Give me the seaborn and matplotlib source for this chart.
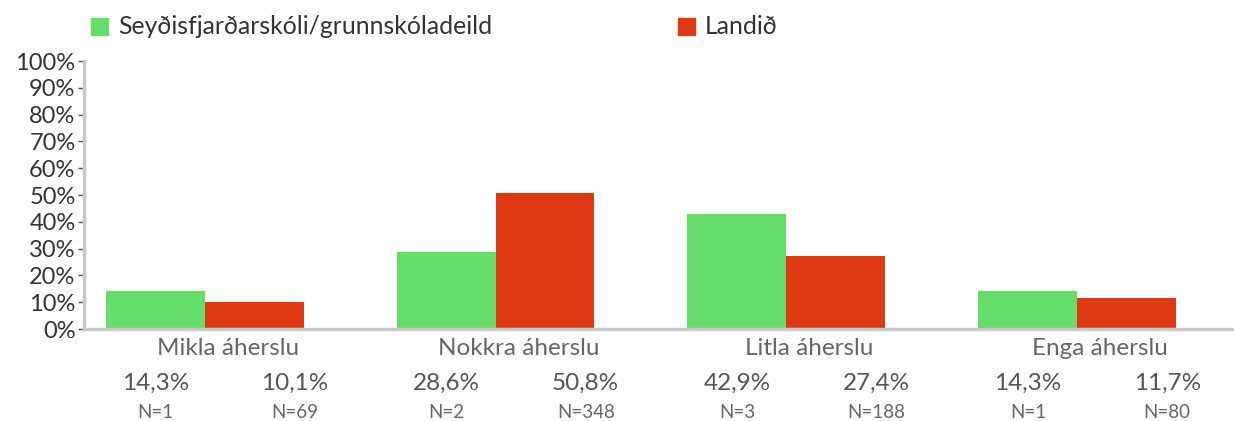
import matplotlib
matplotlib.use("Agg")
import matplotlib.pyplot as plt
import seaborn as sns
import pandas as pd
import numpy as np

categories = ["Mikla áherslu", "Nokkra áherslu", "Litla áherslu", "Enga áherslu"]
series_names = ["Seyðisfjarðarskóli/grunnskóladeild", "Landið"]
school_pct = [14.3, 28.6, 42.9, 14.3]
country_pct = [10.1, 50.8, 27.4, 11.7]
school_n = [1, 2, 3, 1]
country_n = [69, 348, 188, 80]
yticks = [0, 10, 20, 30, 40, 50, 60, 70, 80, 90, 100]

colors = ["#66dc6a", "#dd3a14"]

sns.set_theme(style="white")
plt.rcParams["font.family"] = ["Lato", "DejaVu Sans"]

df = pd.DataFrame({
    "cat": categories * 2,
    "series": [series_names[0]] * 4 + [series_names[1]] * 4,
    "pct": school_pct + country_pct,
})

fig = plt.figure(figsize=(12.34, 4.21), dpi=100)
ax = fig.add_axes([0.068, 0.2185, 0.932, 0.6365])

sns.barplot(data=df, x="cat", y="pct", hue="series", order=categories,
            hue_order=series_names, palette=colors, width=0.68, gap=0,
            linewidth=0, saturation=1, ax=ax, legend=False)

ax.set_xlim(-0.416, 3.54)
ax.set_ylim(0, 100)
ax.set_yticks(yticks)
ax.set_yticklabels([f"{t}%" for t in yticks], fontsize=17, color="#333333")
ax.tick_params(axis="y", length=4, width=1, color="#555555", pad=2, left=True)
ax.set_xticks([])
ax.set_xlabel("")
ax.set_ylabel("")
for side in ["top", "right"]:
    ax.spines[side].set_visible(False)
for side in ["left", "bottom"]:
    ax.spines[side].set_color("#c8c8c8")
    ax.spines[side].set_linewidth(2.5)

trans = ax.get_xaxis_transform()
for i, cat in enumerate(categories):
    ax.text(i + 0.08, -0.072, cat, transform=trans, ha="center", va="center",
            fontsize=17.5, color="#666666")
    left_x = i - 0.169
    right_x = i + 0.31
    ax.text(left_x, -0.204, f"{school_pct[i]:.1f}%".replace(".", ","), transform=trans,
            ha="center", va="center", fontsize=17.5, color="#555555")
    ax.text(right_x, -0.204, f"{country_pct[i]:.1f}%".replace(".", ","), transform=trans,
            ha="center", va="center", fontsize=17.5, color="#555555")
    ax.text(left_x, -0.31, f"N={school_n[i]}", transform=trans,
            ha="center", va="center", fontsize=13.5, color="#666666")
    ax.text(right_x, -0.31, f"N={country_n[i]}", transform=trans,
            ha="center", va="center", fontsize=13.5, color="#666666")

# legend across the top
leg_items = [(91 / 1234, series_names[0], colors[0]), (678 / 1234, series_names[1], colors[1])]
for x0, name, col in leg_items:
    fig.patches.append(plt.Rectangle((x0, 1 - 35 / 421), 17 / 1234, 17 / 421,
                                     transform=fig.transFigure, color=col, figure=fig))
    fig.text(x0 + 27 / 1234, 1 - 27 / 421, name, ha="left", va="center",
             fontsize=17.8, color="#333333")

fig.savefig("out.png", dpi=100)
